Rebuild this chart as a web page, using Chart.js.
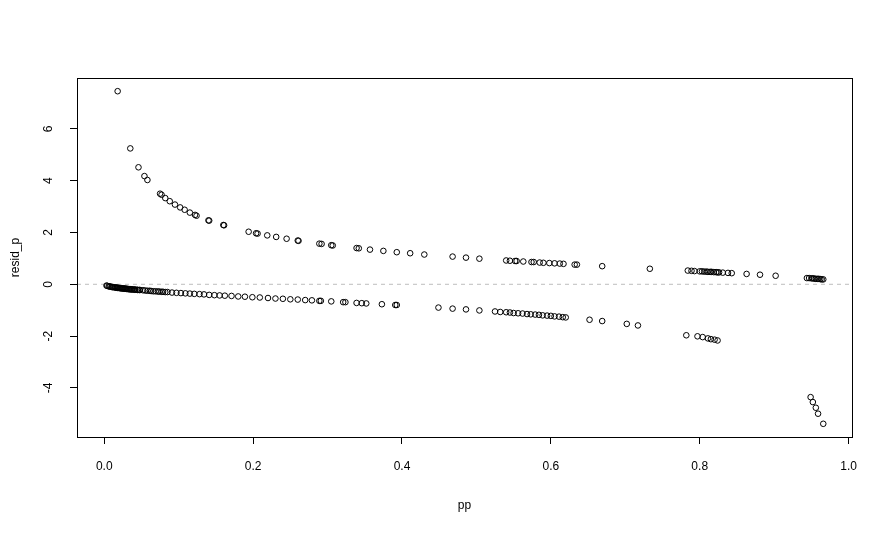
<!DOCTYPE html>
<html>
<head>
<meta charset="utf-8">
<script src="https://cdn.jsdelivr.net/npm/chart.js@4.4.1/dist/chart.umd.min.js"></script>
<style>
  html, body { margin: 0; padding: 0; background: #ffffff; }
  #wrap { width: 892px; height: 535px; }
</style>
</head>
<body>
<div id="wrap"><canvas id="c" width="892" height="535"></canvas></div>
<script>
// fitted probabilities (pp) and Pearson residuals (resid_p)
const ppUpper = [
  0.018, 0.035, 0.046, 0.054, 0.058, 0.075, 0.077, 0.082, 0.088, 0.095,
  0.102, 0.108, 0.115, 0.122, 0.124, 0.140, 0.141, 0.160, 0.161, 0.194,
  0.204, 0.206, 0.219, 0.231, 0.245, 0.260, 0.261, 0.289, 0.292, 0.305,
  0.307, 0.339, 0.342, 0.357, 0.375, 0.393, 0.411, 0.430, 0.468, 0.486,
  0.504, 0.540, 0.545, 0.552, 0.554, 0.563, 0.574, 0.577, 0.585, 0.590,
  0.598, 0.605, 0.612, 0.617, 0.632, 0.635, 0.669, 0.733, 0.784, 0.789,
  0.793, 0.800, 0.803, 0.806, 0.809, 0.811, 0.814, 0.816, 0.819, 0.822,
  0.824, 0.826, 0.831, 0.838, 0.843, 0.863, 0.881, 0.902, 0.944, 0.947,
  0.950, 0.952, 0.954, 0.956, 0.958, 0.960, 0.962, 0.964, 0.966
];
const residUpper = [
  7.46, 5.25, 4.52, 4.18, 4.03, 3.50, 3.46, 3.33, 3.21, 3.08,
  2.97, 2.88, 2.77, 2.68, 2.65, 2.47, 2.46, 2.29, 2.28, 2.03,
  1.97, 1.96, 1.89, 1.83, 1.76, 1.69, 1.68, 1.57, 1.56, 1.51,
  1.50, 1.40, 1.39, 1.34, 1.29, 1.24, 1.20, 1.15, 1.07, 1.03,
  0.99, 0.92, 0.91, 0.90, 0.90, 0.88, 0.86, 0.86, 0.84, 0.83,
  0.82, 0.81, 0.80, 0.79, 0.76, 0.76, 0.70, 0.60, 0.53, 0.52,
  0.51, 0.50, 0.50, 0.49, 0.49, 0.48, 0.48, 0.48, 0.47, 0.47,
  0.46, 0.46, 0.45, 0.44, 0.43, 0.40, 0.37, 0.33, 0.24, 0.24,
  0.23, 0.23, 0.22, 0.21, 0.21, 0.21, 0.20, 0.19, 0.19
];
const ppLower = [
  0.003, 0.004, 0.006, 0.007, 0.008, 0.010, 0.011, 0.012, 0.014, 0.015,
  0.016, 0.017, 0.018, 0.019, 0.020, 0.021, 0.022, 0.023, 0.024, 0.025,
  0.026, 0.027, 0.028, 0.029, 0.030, 0.031, 0.032, 0.033, 0.034, 0.035,
  0.036, 0.037, 0.038, 0.040, 0.041, 0.042, 0.044, 0.045, 0.047, 0.048,
  0.052, 0.055, 0.058, 0.061, 0.063, 0.066, 0.069, 0.072, 0.074, 0.077,
  0.079, 0.082, 0.085, 0.091, 0.097, 0.103, 0.109, 0.115, 0.121, 0.128,
  0.134, 0.141, 0.148, 0.155, 0.162, 0.171, 0.180, 0.189, 0.199, 0.209,
  0.220, 0.230, 0.240, 0.250, 0.260, 0.270, 0.279, 0.289, 0.291, 0.305,
  0.321, 0.324, 0.339, 0.346, 0.352, 0.373, 0.391, 0.393, 0.449, 0.468,
  0.486, 0.504, 0.525, 0.532, 0.540, 0.545, 0.550, 0.556, 0.562, 0.568,
  0.573, 0.579, 0.584, 0.589, 0.595, 0.600, 0.605, 0.611, 0.616, 0.620,
  0.652, 0.669, 0.702, 0.717, 0.782, 0.797, 0.804, 0.811, 0.815, 0.820,
  0.824, 0.949, 0.952, 0.956, 0.959, 0.966
];
const residLower = [
  -0.05, -0.06, -0.08, -0.08, -0.09, -0.10, -0.11, -0.11, -0.12, -0.12,
  -0.13, -0.13, -0.14, -0.14, -0.14, -0.15, -0.15, -0.15, -0.16, -0.16,
  -0.16, -0.17, -0.17, -0.17, -0.18, -0.18, -0.18, -0.19, -0.19, -0.19,
  -0.19, -0.20, -0.20, -0.20, -0.21, -0.21, -0.21, -0.22, -0.22, -0.22,
  -0.23, -0.24, -0.25, -0.25, -0.26, -0.27, -0.27, -0.28, -0.28, -0.29,
  -0.29, -0.30, -0.30, -0.32, -0.33, -0.34, -0.35, -0.36, -0.37, -0.38,
  -0.39, -0.41, -0.42, -0.43, -0.44, -0.45, -0.47, -0.48, -0.50, -0.51,
  -0.53, -0.55, -0.56, -0.58, -0.59, -0.61, -0.62, -0.64, -0.64, -0.66,
  -0.69, -0.69, -0.72, -0.73, -0.74, -0.77, -0.80, -0.80, -0.90, -0.94,
  -0.97, -1.01, -1.05, -1.07, -1.08, -1.09, -1.11, -1.12, -1.13, -1.15,
  -1.16, -1.17, -1.18, -1.20, -1.21, -1.22, -1.24, -1.25, -1.27, -1.28,
  -1.37, -1.42, -1.53, -1.59, -1.97, -2.01, -2.04, -2.09, -2.12, -2.14,
  -2.17, -4.36, -4.55, -4.77, -5.00, -5.39
];
const xTicks = [0.0, 0.2, 0.4, 0.6, 0.8, 1.0];
const yTicks = [-4, -2, 0, 2, 4, 6];
const xRange = [-0.0366, 1.0046];
const yRange = [-5.90, 7.97];
const xTitle = 'pp';
const yTitle = 'resid_p';

const FONT = 'Liberation Sans, Arial, sans-serif';
const pts = ppUpper.map((p, i) => ({ x: p, y: residUpper[i] }))
  .concat(ppLower.map((p, i) => ({ x: p, y: residLower[i] })));

const rPlot = {
  id: 'rPlot',
  afterDraw(chart) {
    const { ctx, chartArea: a, scales } = chart;
    ctx.save();
    ctx.strokeStyle = '#000';
    ctx.lineWidth = 1;
    ctx.strokeRect(Math.round(a.left) + 0.5, Math.round(a.top) + 0.5,
      Math.round(a.right - a.left), Math.round(a.bottom - a.top));
    // y tick labels, rotated like R's default las = 0
    const ys = scales.y;
    ctx.fillStyle = '#000';
    ctx.font = '12px ' + FONT;
    ctx.textAlign = 'center';
    ctx.textBaseline = 'middle';
    ys.ticks.forEach(t => {
      const py = ys.getPixelForValue(t.value);
      ctx.save();
      ctx.translate(49, py);
      ctx.rotate(-Math.PI / 2);
      ctx.fillText(String(t.value), 0, 0);
      ctx.restore();
    });
    ctx.restore();
  }
};

new Chart(document.getElementById('c'), {
  type: 'scatter',
  data: {
    datasets: [
      {
        data: pts,
        showLine: false,
        pointStyle: 'circle',
        pointRadius: 2.8,
        pointBorderWidth: 1,
        pointBorderColor: '#000',
        pointBackgroundColor: 'rgba(0,0,0,0)',
        pointHoverRadius: 2.8
      },
      {
        type: 'line',
        data: [{ x: xRange[0], y: 0 }, { x: xRange[1], y: 0 }],
        borderColor: '#bebebe',
        borderWidth: 1,
        borderDash: [4, 4],
        pointRadius: 0,
        fill: false
      }
    ]
  },
  options: {
    responsive: false,
    devicePixelRatio: 1,
    animation: false,
    events: [],
    layout: { padding: { top: 78, right: 40, left: 0, bottom: 0 } },
    plugins: { legend: { display: false }, tooltip: { enabled: false } },
    scales: {
      x: {
        type: 'linear',
        min: xRange[0],
        max: xRange[1],
        afterBuildTicks: s => { s.ticks = xTicks.map(v => ({ value: v })); },
        afterFit: s => { s.height = 98; },
        ticks: {
          callback: v => Number(v).toFixed(1),
          color: '#000',
          font: { family: FONT, size: 12 },
          padding: 15,
          maxRotation: 0,
          autoSkip: false
        },
        grid: { drawOnChartArea: false, drawTicks: true, tickLength: 7, color: '#000', lineWidth: 1 },
        border: { display: true, color: '#000', width: 1 },
        title: {
          display: true, text: xTitle, color: '#000',
          font: { family: FONT, size: 12 },
          padding: { top: 0, bottom: 22 }
        }
      },
      y: {
        type: 'linear',
        min: yRange[0],
        max: yRange[1],
        afterBuildTicks: s => { s.ticks = yTicks.map(v => ({ value: v })); },
        afterFit: s => { s.width = 77; },
        ticks: {
          callback: () => '',
          color: '#000',
          font: { family: FONT, size: 12 },
          autoSkip: false
        },
        grid: { drawOnChartArea: false, drawTicks: true, tickLength: 7, color: '#000', lineWidth: 1 },
        border: { display: true, color: '#000', width: 1 },
        title: {
          display: true, text: yTitle, color: '#000',
          font: { family: FONT, size: 12 },
          padding: { top: 8, bottom: 0 }
        }
      }
    }
  },
  plugins: [rPlot]
});
</script>
</body>
</html>
